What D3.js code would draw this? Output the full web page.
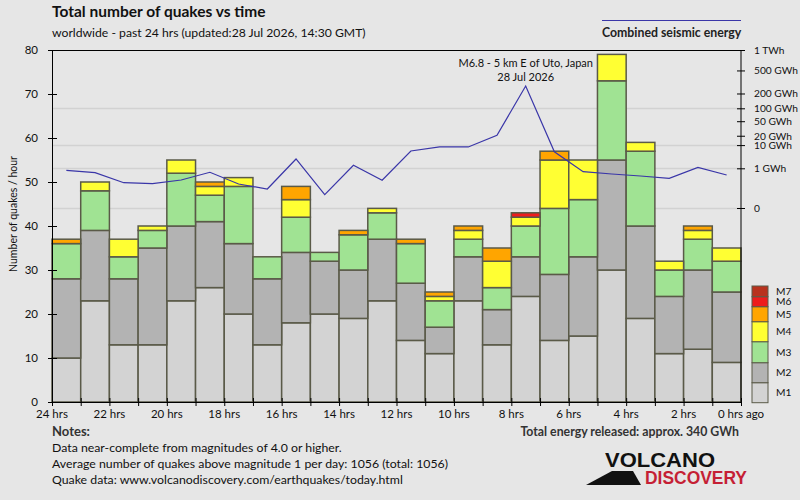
<!DOCTYPE html>
<html>
<head>
<meta charset="utf-8">
<script src="https://cdn.jsdelivr.net/npm/d3@7"></script>
<style>
  body { margin: 0; background: #e6e6e6; }
  svg { display: block; font-family: Lato, "Open Sans", sans-serif; }
</style>
</head>
<body>
<svg id="chart" width="800" height="500"></svg>
<script>
// hours ago at the start of each bar (24 bars, one per hour)
const hourLabels = ['24 hrs', '22 hrs', '20 hrs', '18 hrs', '16 hrs', '14 hrs', '12 hrs',
  '10 hrs', '8 hrs', '6 hrs', '4 hrs', '2 hrs', '0 hrs ago'];
const labelHours = [24, 22, 20, 18, 16, 14, 12, 10, 8, 6, 4, 2, 0];

// quakes per hour by magnitude class, oldest hour first
const m1 = [10, 23, 13, 13, 23, 26, 20, 13, 18, 20, 19, 23, 14, 11, 23, 13, 24, 14, 15, 30, 19, 11, 12, 9];
const m2 = [18, 16, 15, 22, 17, 15, 16, 15, 16, 12, 11, 14, 13, 6, 10, 8, 9, 15, 18, 25, 21, 13, 18, 16];
const m3 = [8, 9, 5, 4, 12, 6, 13, 5, 8, 2, 8, 6, 9, 6, 4, 5, 7, 15, 13, 18, 17, 6, 7, 7];
const m4 = [0, 2, 4, 1, 3, 2, 2, 0, 4, 0, 0, 1, 0, 1, 2, 6, 2, 11, 9, 6, 2, 2, 2, 3];
const m5 = [1, 0, 0, 0, 0, 1, 0, 0, 3, 0, 1, 0, 1, 1, 1, 3, 0, 2, 0, 0, 0, 0, 1, 0];
const m6 = [0, 0, 0, 0, 0, 0, 0, 0, 0, 0, 0, 0, 0, 0, 0, 0, 1, 0, 0, 0, 0, 0, 0, 0];
const m7 = [0, 0, 0, 0, 0, 0, 0, 0, 0, 0, 0, 0, 0, 0, 0, 0, 0, 0, 0, 0, 0, 0, 0, 0];

// combined seismic energy per hour, GWh
const energy = [0.77, 0.56, 0.105, 0.086, 0.175, 0.59, 0.081, 0.025, 2.87, 0.0042, 1.44, 0.166,
  6.1, 8.6, 8.6, 20.6, 274, 5.7, 0.64, 0.46, 0.34, 0.23, 1.13, 0.40];

const energyTicks = [0, 1, 10, 20, 50, 100, 200, 500, 1000];
const energyTickLabels = ['0', '1 GWh', '10 GWh', '20 GWh', '50 GWh', '100 GWh', '200 GWh', '500 GWh', '1 TWh'];
const energyGrid = [0, 1, 10, 100];

const keys = ['M1', 'M2', 'M3', 'M4', 'M5', 'M6', 'M7'];
const colors = ['#d3d3d3', '#b3b3b3', '#a0e393', '#ffff33', '#ffa500', '#ee1c1c', '#b8321e'];

const svg = d3.select('#chart');
const margin = { top: 50, right: 59, bottom: 98, left: 52 };
const x0 = margin.left, x1 = 800 - margin.right;
const y0 = 500 - margin.bottom, y1 = margin.top;

svg.append('rect').attr('width', 800).attr('height', 500).attr('fill', '#e6e6e6');

const x = d3.scaleLinear().domain([24, 0]).range([x0, x1]);
const y = d3.scaleLinear().domain([0, 80]).range([y0, y1]);
const yE = d3.scalePow().exponent(0.2).domain([0, 1000]).range([208, y1]);
const color = d3.scaleOrdinal().domain(keys).range(colors);

// rows for the stack
const rows = m1.map((d, i) => ({
  h: 24 - i, M1: m1[i], M2: m2[i], M3: m3[i], M4: m4[i], M5: m5[i], M6: m6[i], M7: m7[i]
}));
const stacked = d3.stack().keys(keys)(rows);

// grid lines (energy axis)
svg.append('g').selectAll('line')
  .data(energyGrid).enter()
  .append('line')
  .attr('x1', x0).attr('x2', x1)
  .attr('y1', d => Math.round(yE(d)) + 0.5).attr('y2', d => Math.round(yE(d)) + 0.5)
  .attr('stroke', '#d2d2d2').attr('stroke-width', 1.5);

// bars
const layers = svg.append('g').selectAll('g')
  .data(stacked).enter()
  .append('g')
  .attr('fill', d => color(d.key));
layers.selectAll('rect')
  .data(d => d.filter(s => s[1] > s[0])).enter()
  .append('rect')
  .attr('x', d => x(d.data.h))
  .attr('width', d => x(d.data.h - 1) - x(d.data.h))
  .attr('y', d => y(d[1]))
  .attr('height', d => y(d[0]) - y(d[1]))
  .attr('stroke', '#5a5a48')
  .attr('stroke-width', 1.5);

// energy line
svg.append('path')
  .datum(energy)
  .attr('fill', 'none')
  .attr('stroke', '#3a36a8')
  .attr('stroke-width', 1.2)
  .attr('d', d3.line()
    .x((d, i) => x(23.5 - i))
    .y(d => yE(d)));

// frame top
svg.append('line')
  .attr('x1', x0).attr('x2', x1).attr('y1', y1 + 0.5).attr('y2', y1 + 0.5)
  .attr('stroke', '#000');

// left axis
const gL = svg.append('g')
  .attr('transform', `translate(${x0},0)`)
  .call(d3.axisLeft(y).tickValues(d3.range(0, 81, 10)).tickSizeOuter(0).tickPadding(8));
gL.selectAll('.tick line').attr('x1', 5).attr('x2', -4);

// right axis (energy)
const gR = svg.append('g')
  .attr('transform', `translate(${x1},0)`)
  .call(d3.axisRight(yE).tickValues(energyTicks)
    .tickFormat((d, i) => energyTickLabels[i]).tickSizeOuter(0).tickPadding(7));
gR.select('.domain').attr('d', `M0,${y1}V${y0}`);
gR.selectAll('.tick line').attr('x1', -4).attr('x2', 4);

// bottom axis
const gB = svg.append('g')
  .attr('transform', `translate(0,${y0})`)
  .call(d3.axisBottom(x).tickValues(d3.range(24, -1, -1)).tickFormat('').tickSizeOuter(0));
gB.selectAll('.tick line').attr('y1', -4).attr('y2', 4);
gB.selectAll('.hrlabel')
  .data(labelHours).enter()
  .append('text')
  .attr('x', d => x(d)).attr('y', 16)
  .attr('text-anchor', 'middle')
  .attr('fill', '#000')
  .attr('font-size', 11.5)
  .text((d, i) => hourLabels[i]);

[gL, gR, gB].forEach(g => {
  g.selectAll('text').attr('font-family', 'Lato, sans-serif').attr('fill', '#111');
  g.select('.domain').attr('stroke', '#000');
});
gL.selectAll('.tick text').attr('font-size', 11.5);
gR.selectAll('.tick text').attr('font-size', 10.2);

// legend
const legendH = [20, 20, 21, 20, 15, 10, 10.7];
let ly = y0 + 0.7;
const legend = svg.append('g');
keys.forEach((k, i) => {
  ly -= legendH[i];
  legend.append('rect')
    .attr('x', 752).attr('y', ly).attr('width', 16).attr('height', legendH[i])
    .attr('fill', color(k)).attr('stroke', '#5a5a48').attr('stroke-width', 1);
  legend.append('text')
    .attr('x', 776).attr('y', ly + legendH[i] / 2).attr('dy', '0.35em')
    .attr('font-size', 10.2).attr('fill', '#111')
    .text(k);
});

// titles
svg.append('text').attr('x', 52).attr('y', 17)
  .attr('font-size', 15.5).attr('font-weight', 'bold').attr('fill', '#111')
  .text('Total number of quakes vs time');
svg.append('text').attr('x', 52).attr('y', 37)
  .attr('font-size', 12.2).attr('fill', '#111')
  .text('worldwide - past 24 hrs (updated:28 Jul 2026, 14:30 GMT)');

// energy legend
svg.append('line').attr('x1', 602).attr('x2', 741).attr('y1', 20.5).attr('y2', 20.5)
  .attr('stroke', '#3a36a8').attr('stroke-width', 1);
svg.append('text').attr('x', 602).attr('y', 37)
  .attr('font-size', 12.3).attr('font-weight', 'bold').attr('fill', '#222')
  .text('Combined seismic energy');

// y label
svg.append('text')
  .attr('transform', 'translate(17,214) rotate(-90)')
  .attr('text-anchor', 'middle').attr('font-size', 10.5).attr('fill', '#111')
  .text('Number of quakes / hour');

// annotation of biggest quake
const peak = energy.indexOf(d3.max(energy));
svg.append('text').attr('x', x(23.5 - peak)).attr('y', 67)
  .attr('text-anchor', 'middle').attr('font-size', 11).attr('fill', '#111')
  .text('M6.8 - 5 km E of Uto, Japan');
svg.append('text').attr('x', x(23.5 - peak)).attr('y', 81)
  .attr('text-anchor', 'middle').attr('font-size', 11).attr('fill', '#111')
  .text('28 Jul 2026');

// notes
svg.append('text').attr('x', 52).attr('y', 436)
  .attr('font-size', 13).attr('font-weight', 'bold').attr('fill', '#333')
  .text('Notes:');
const notes = ['Data near-complete from magnitudes of 4.0 or higher.',
  'Average number of quakes above magnitude 1 per day: 1056 (total: 1056)',
  'Quake data: www.volcanodiscovery.com/earthquakes/today.html'];
notes.forEach((t, i) => {
  svg.append('text').attr('x', 52).attr('y', 452 + i * 16)
    .attr('font-size', 12.3).attr('fill', '#111').text(t);
});
svg.append('text').attr('x', 739).attr('y', 436)
  .attr('text-anchor', 'end')
  .attr('font-size', 12.3).attr('font-weight', 'bold').attr('fill', '#333')
  .text('Total energy released: approx. 340 GWh');

// logo
const logo = svg.append('g');
logo.append('path')
  .attr('d', 'M586,485 L612,471 L633,471 L641,485 Z')
  .attr('fill', '#111');
logo.append('text').attr('x', 605).attr('y', 466.5)
  .attr('font-family', '"Liberation Sans", Arial, sans-serif')
  .attr('font-size', 19.5).attr('font-weight', 'bold').attr('fill', '#111')
  .attr('textLength', 110).attr('lengthAdjust', 'spacingAndGlyphs')
  .text('VOLCANO');
logo.append('text').attr('x', 645).attr('y', 484)
  .attr('font-family', '"Liberation Sans", Arial, sans-serif')
  .attr('font-size', 19).attr('font-weight', 'bold').attr('fill', '#c51f35')
  .attr('textLength', 102).attr('lengthAdjust', 'spacingAndGlyphs')
  .text('DISCOVERY');
</script>
</body>
</html>
